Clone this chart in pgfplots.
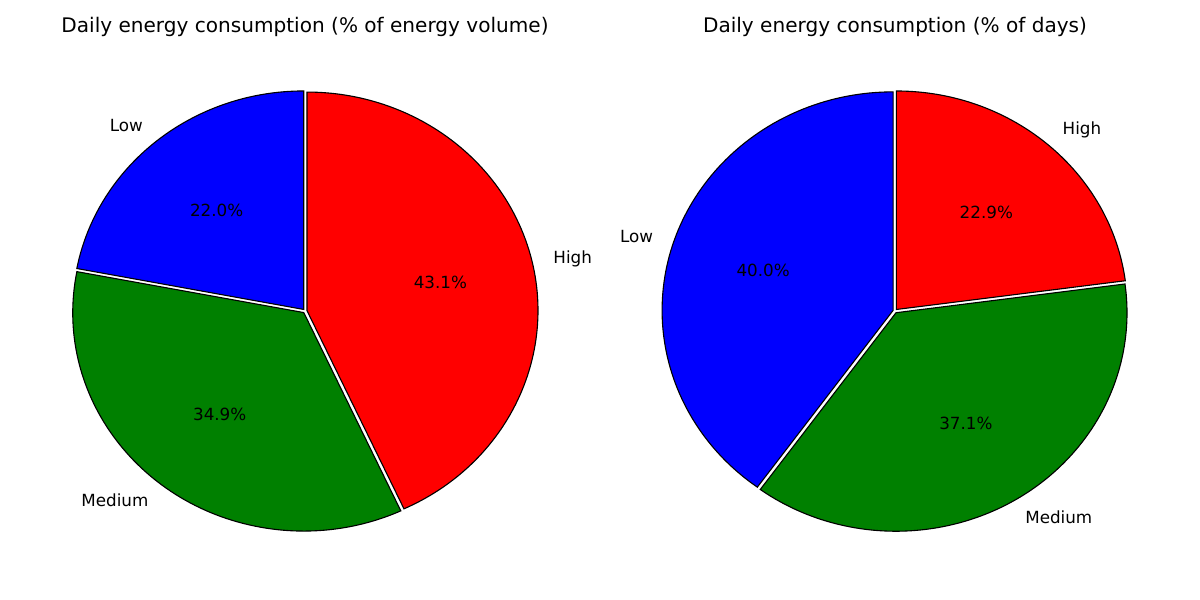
\documentclass[border=0pt]{standalone}
\usepackage{pgfplots}
\pgfplotsset{compat=1.18}
\usepackage{fontspec}
\setmainfont{DejaVu Sans}
% #1 start, #2 end, #3 mid, #4 colour, #5 label, #6 anchor, #7 pct
\newcommand{\slice}[7]{%
 \fill[#4,draw=black,line width=0.8pt,shift={(#3:0.02in)}] (axis cs:0,0) -- ++({2.31*cos(#1)*1in},{2.185*sin(#1)*1in}) arc[start angle=#1,end angle=#2,x radius=2.31in,y radius=2.185in] -- cycle;
 \node[font=\fontsize{12.1}{14}\selectfont] at ([shift={({1.386*cos(#3)*1in},{1.311*sin(#3)*1in})}]axis cs:0,0) {#7};
 \node[font=\fontsize{12.1}{14}\selectfont,anchor=#6,inner sep=0pt] at ([shift={({2.541*cos(#3)*1in},{2.404*sin(#3)*1in})}]axis cs:0,0) {#5};
}
\begin{document}
\begin{tikzpicture}
\path (0,0) rectangle (12in,6in);
\begin{axis}[at={(3.05in,2.89in)},anchor=center,hide axis,clip=false,
 scale only axis,width=5.775in,height=5.775in,xmin=-1.25,xmax=1.25,ymin=-1.25,ymax=1.25]
\addplot[draw=none] coordinates {(0,0)};
\slice{90}{169.2}{129.6}{blue}{Low}{east}{22.0\%}
\slice{169.2}{294.84}{232.02}{green!50!black}{Medium}{east}{34.9\%}
\slice{294.84}{450}{372.42}{red}{High}{west}{43.1\%}
\end{axis}
\begin{axis}[at={(8.95in,2.89in)},anchor=center,hide axis,clip=false,
 scale only axis,width=5.775in,height=5.775in,xmin=-1.25,xmax=1.25,ymin=-1.25,ymax=1.25]
\addplot[draw=none] coordinates {(0,0)};
\slice{90}{234}{162}{blue}{Low}{east}{40.0\%}
\slice{234}{367.56}{300.78}{green!50!black}{Medium}{west}{37.1\%}
\slice{367.56}{450}{408.78}{red}{High}{west}{22.9\%}
\end{axis}
\node[font=\fontsize{14.5}{17}\selectfont] at (3.05in,5.73in) {Daily energy consumption (\% of energy volume)};
\node[font=\fontsize{14.5}{17}\selectfont] at (8.95in,5.73in) {Daily energy consumption (\% of days)};
\end{tikzpicture}
\end{document}
